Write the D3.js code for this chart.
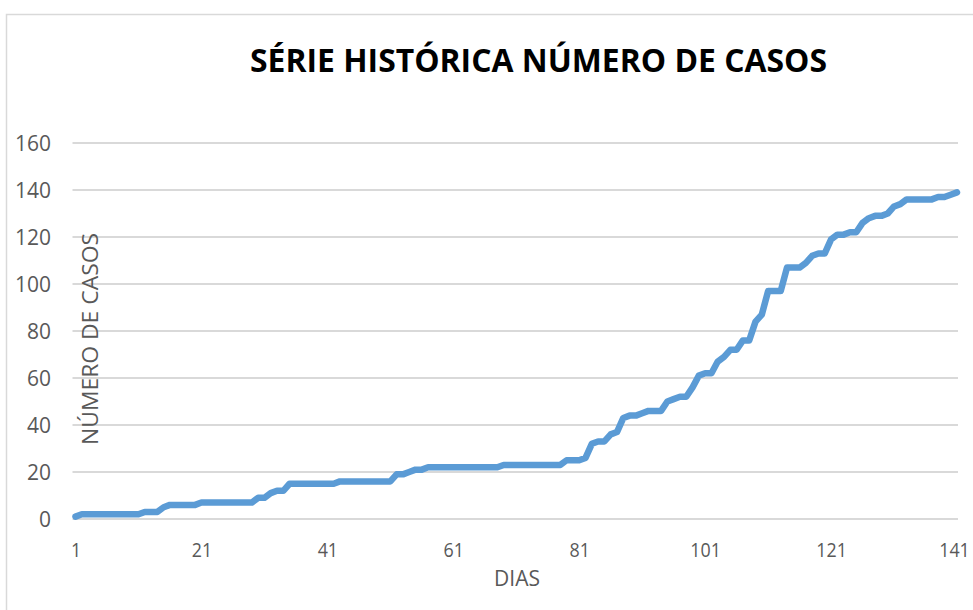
<!DOCTYPE html>
<html>
<head>
<meta charset="utf-8">
<script src="https://cdn.jsdelivr.net/npm/d3@7"></script>
<style>
  html, body { margin: 0; padding: 0; background: #ffffff; }
  svg { display: block; }
</style>
</head>
<body>
<svg id="chart" width="973" height="610"></svg>
<script>
// ---- Data ----
const title = "SÉRIE HISTÓRICA NÚMERO DE CASOS";
const xTitle = "DIAS";
const yTitle = "NÚMERO DE CASOS";
const cases = [
  1,
  2, 2, 2, 2, 2, 2, 2, 2, 2, 2,
  3, 3, 3,
  5,
  6, 6, 6, 6, 6,
  7, 7, 7, 7, 7, 7, 7, 7, 7,
  9, 9,
  11,
  12, 12,
  15, 15, 15, 15, 15, 15, 15, 15,
  16, 16, 16, 16, 16, 16, 16, 16, 16,
  19, 19,
  20,
  21, 21,
  22, 22, 22, 22, 22, 22, 22, 22, 22, 22, 22, 22,
  23, 23, 23, 23, 23, 23, 23, 23, 23, 23,
  25, 25, 25,
  26,
  32,
  33, 33,
  36,
  37,
  43,
  44, 44,
  45,
  46, 46, 46,
  50,
  51,
  52, 52,
  56,
  61,
  62, 62,
  67,
  69,
  72, 72,
  76, 76,
  84,
  87,
  97, 97, 97,
  107, 107, 107,
  109,
  112,
  113, 113,
  119,
  121, 121,
  122, 122,
  126,
  128,
  129, 129,
  130,
  133,
  134,
  136, 136, 136, 136, 136,
  137, 137,
  138,
  139
];
const days = cases.map((_, i) => i + 1);
const xTicks = [1, 21, 41, 61, 81, 101, 121, 141];
const yTicks = [0, 20, 40, 60, 80, 100, 120, 140, 160];

// ---- Drawing ----
const svg = d3.select("#chart");
const font = "'Open Sans', 'Liberation Sans', sans-serif";

svg.append("rect")
  .attr("x", 6.5).attr("y", 14.5)
  .attr("width", 1000).attr("height", 700)
  .attr("fill", "#ffffff")
  .attr("stroke", "#d9d9d9")
  .attr("stroke-width", 1.5);

const x = d3.scaleLinear().domain([1, 141]).range([75.5, 957]);
const y = d3.scaleLinear().domain([0, 160]).range([519, 143]);

// Gridlines
svg.append("g")
  .selectAll("line")
  .data(yTicks)
  .join("line")
  .attr("x1", x(1) - 3)
  .attr("x2", x(141) + 1)
  .attr("y1", d => y(d))
  .attr("y2", d => y(d))
  .attr("stroke", "#d9d9d9")
  .attr("stroke-width", 2);

// Y axis labels
const yAxis = d3.axisLeft(y).tickValues(yTicks).tickSize(0).tickPadding(0);
const gy = svg.append("g").attr("transform", "translate(51,0)").call(yAxis);
gy.select(".domain").remove();
gy.selectAll("text")
  .attr("font-family", font)
  .attr("font-size", 21)
  .attr("fill", "#595959")
  .attr("dy", "0.36em");

// X axis labels
const xAxis = d3.axisBottom(x).tickValues(xTicks).tickFormat(d3.format("d")).tickSize(0).tickPadding(0);
const gx = svg.append("g").attr("transform", "translate(0,538)").call(xAxis);
gx.select(".domain").remove();
gx.selectAll("text")
  .attr("font-family", font)
  .attr("font-size", 20.5)
  .attr("fill", "#595959")
  .attr("dy", "0.95em")
  .attr("dx", (d, i) => i === xTicks.length - 1 ? -3 : 0)
  .attr("textLength", d => String(d).length * 10.2)
  .attr("lengthAdjust", "spacingAndGlyphs");

// Line
const line = d3.line()
  .x((d, i) => x(days[i]))
  .y(d => y(d));

svg.append("path")
  .datum(cases)
  .attr("d", line)
  .attr("fill", "none")
  .attr("stroke", "#5b9bd5")
  .attr("stroke-width", 6.5)
  .attr("stroke-linejoin", "round")
  .attr("stroke-linecap", "round");

// Title
svg.append("text")
  .attr("x", 538.5)
  .attr("y", 72)
  .attr("text-anchor", "middle")
  .attr("font-family", font)
  .attr("font-weight", "bold")
  .attr("font-size", 33)
  .attr("fill", "#000000")
  .attr("textLength", 577)
  .attr("lengthAdjust", "spacingAndGlyphs")
  .text(title);

// X title
svg.append("text")
  .attr("x", 517)
  .attr("y", 586)
  .attr("text-anchor", "middle")
  .attr("font-family", font)
  .attr("font-size", 21)
  .attr("fill", "#595959")
  .text(xTitle);

// Y title
svg.append("text")
  .attr("transform", "translate(98,339) rotate(-90)")
  .attr("text-anchor", "middle")
  .attr("font-family", font)
  .attr("font-size", 21)
  .attr("fill", "#595959")
  .attr("textLength", 212)
  .attr("lengthAdjust", "spacingAndGlyphs")
  .text(yTitle);
</script>
</body>
</html>
